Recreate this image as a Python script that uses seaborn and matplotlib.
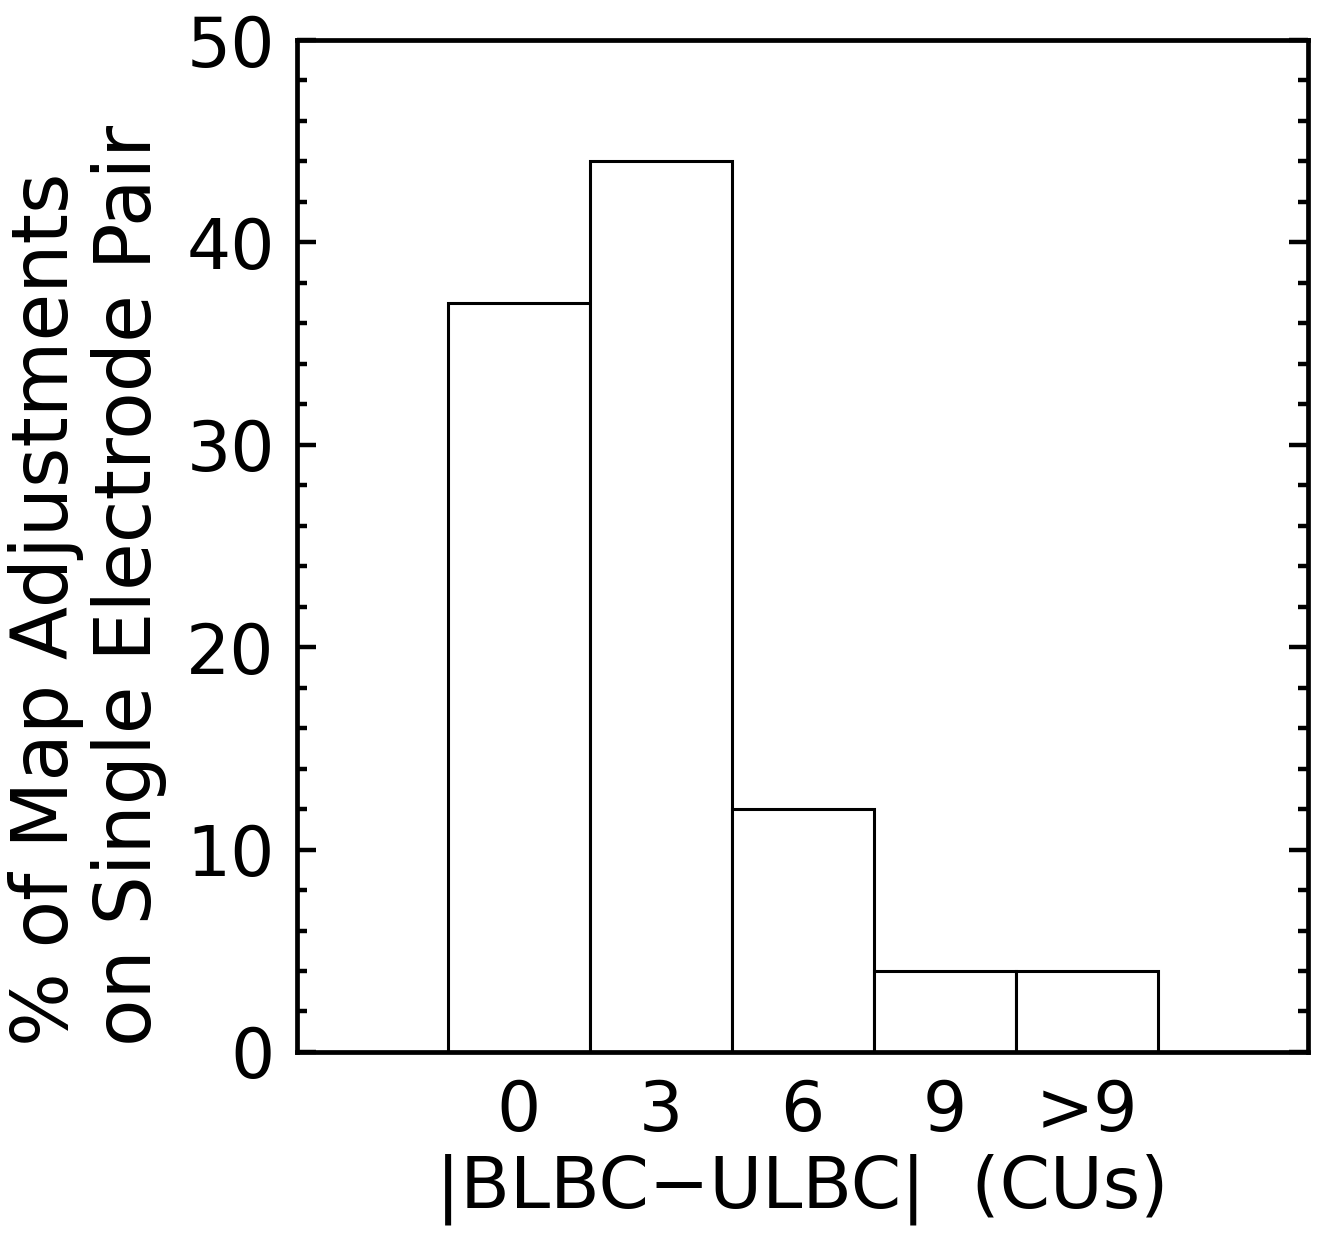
import matplotlib
matplotlib.use("Agg")
import matplotlib.pyplot as plt
import seaborn as sns
import pandas as pd
from matplotlib.ticker import MultipleLocator

# дані гістограми
categories = ["0", "3", "6", "9", ">9"]
percent = [37, 44, 12, 4, 4]

df = pd.DataFrame({"diff": categories, "pct": percent})

sns.set_theme(style="white")
plt.rcParams['font.family'] = ['DejaVu Sans']
plt.rcParams['text.color'] = 'black'
plt.rcParams['xtick.color'] = 'black'
plt.rcParams['ytick.color'] = 'black'
plt.rcParams['axes.labelcolor'] = 'black'

fig = plt.figure(figsize=(13.2, 12.35), dpi=100)
ax = fig.add_axes([0.225, 0.1482, 0.766, 0.8194])

sns.barplot(data=df, x="diff", y="pct", order=categories, width=1.0,
            color="white", edgecolor="black", linewidth=2.2, ax=ax)

ax.set_xlim(-1.56, 5.56)
ax.set_ylim(0, 50)
ax.yaxis.set_major_locator(MultipleLocator(10))
ax.yaxis.set_minor_locator(MultipleLocator(2))

for s in ax.spines.values():
    s.set_linewidth(3.4)
    s.set_color("black")

ax.tick_params(axis="y", which="major", direction="in", length=14, width=3.2,
               left=True, right=True, labelsize=50, pad=16)
ax.tick_params(axis="y", which="minor", direction="in", length=7, width=3.2,
               left=True, right=True)
ax.tick_params(axis="x", length=0, labelsize=50, pad=19)

ax.set_xlabel("|BLBC\u2212ULBC|  (CUs)", fontsize=52, labelpad=6)
ax.set_ylabel("")

fig.text(0.066, 1 - 1046 / 1235, "% of Map Adjustments\non Single Electrode Pair",
         rotation=90, fontsize=56, ha="center", va="bottom",
         multialignment="left", linespacing=1.12)

fig.savefig("out.png", dpi=100)
